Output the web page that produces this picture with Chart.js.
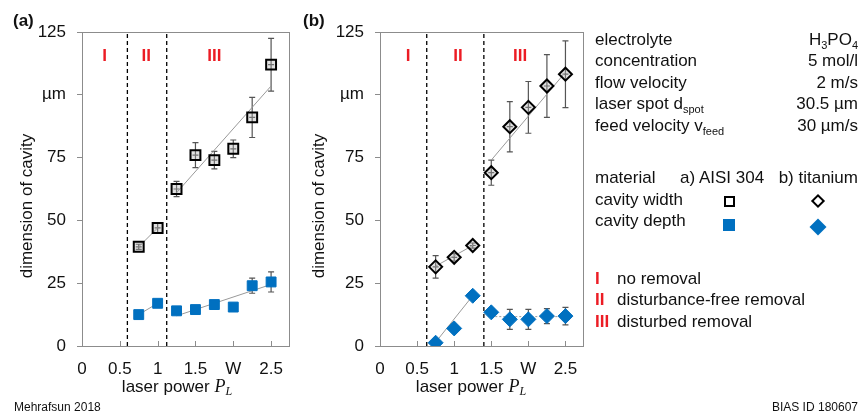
<!DOCTYPE html>
<html>
<head>
<meta charset="utf-8">
<script src="https://cdn.jsdelivr.net/npm/chart.js@4.4.0/dist/chart.umd.min.js"></script>
<style>
  body { margin: 0; background: #fff; }
  #page { position: relative; width: 862px; height: 418px; overflow: hidden;
          font-family: "Liberation Sans", Arial, sans-serif; color: #111; }
  canvas { position: absolute; top: 0; }
  #chartA { left: 0; }
  #chartB { left: 298px; }
  .t { position: absolute; font-size: 17px; line-height: 20px; white-space: nowrap; }
  .r { right: 4px; text-align: right; }
  .t sub { font-size: 11px; vertical-align: -4px; line-height: 0; }
  .red { color: #ec1c24; font-weight: bold; position: absolute; left: 595px; }
  .mk { position: absolute; box-sizing: border-box; }
  .small { position: absolute; font-size: 12px; line-height: 14px; }
</style>
</head>
<body>
<div id="page">
  <canvas id="chartA" width="300" height="418"></canvas>
  <canvas id="chartB" width="300" height="418"></canvas>

  <div class="t" style="left:595px;top:30px">electrolyte</div>
  <div class="t r" style="top:30px">H<sub>3</sub>PO<sub>4</sub></div>
  <div class="t" style="left:595px;top:51px">concentration</div>
  <div class="t r" style="top:51px">5 mol/l</div>
  <div class="t" style="left:595px;top:73px">flow velocity</div>
  <div class="t r" style="top:73px">2 m/s</div>
  <div class="t" style="left:595px;top:94px">laser spot d<sub>spot</sub></div>
  <div class="t r" style="top:94px">30.5 µm</div>
  <div class="t" style="left:595px;top:116px">feed velocity v<sub>feed</sub></div>
  <div class="t r" style="top:116px">30 µm/s</div>

  <div class="t" style="left:595px;top:168px">material</div>
  <div class="t" style="left:680px;top:168px">a) AISI 304</div>
  <div class="t r" style="top:168px">b) titanium</div>
  <div class="t" style="left:595px;top:190px">cavity width</div>
  <div class="t" style="left:595px;top:211px">cavity depth</div>
  <div class="mk" style="left:724px;top:196px;width:11px;height:11px;border:2px solid #000"></div>
  <div class="mk" style="left:723px;top:219px;width:12px;height:12px;background:#0070c0"></div>
  <div class="mk" style="left:813px;top:196px;width:10px;height:10px;border:2px solid #000;transform:rotate(45deg)"></div>
  <div class="mk" style="left:812px;top:221px;width:12px;height:12px;background:#0070c0;transform:rotate(45deg)"></div>

  <div class="t" style="left:0;top:269px"><span class="red">I</span><span style="position:absolute;left:617px">no removal</span></div>
  <div class="t" style="left:0;top:290px"><span class="red">II</span><span style="position:absolute;left:617px">disturbance-free removal</span></div>
  <div class="t" style="left:0;top:312px"><span class="red">III</span><span style="position:absolute;left:617px">disturbed removal</span></div>

  <div class="small" style="left:14px;top:400px">Mehrafsun 2018</div>
  <div class="small" style="right:4px;top:400px">BIAS ID 180607</div>
</div>

<script>
const xTicks = [0, 0.5, 1, 1.5, 2, 2.5];
const yTicks = [0, 25, 50, 75, 100, 125];
const regionNames = ['I', 'II', 'III'];

// (a) AISI 304
const aPowerII = [0.75, 1];
const aPowerIII = [1.25, 1.5, 1.75, 2, 2.25, 2.5];
const aWidthII = [39.5, 47];
const aWidthIIErr = [1, 2];
const aWidthIII = [62.5, 76, 74, 78.5, 91, 112];
const aWidthIIIErr = [3, 5, 3.5, 3.5, 8, 10.5];
const aDepthII = [12.5, 17];
const aDepthIII = [14, 14.5, 16.5, 15.5, 24, 25.5];
const aDepthIIIErr = [0, 0, 0, 0, 3, 4];
const aFitPower = [1.25, 2.5];
const aWidthFit = [61, 103.5];
const aDepthFit = [12, 24.5];
const aBounds = [0.6, 1.12];
const aRegionX = [0.3, 0.85, 1.75];

// (b) titanium
const bPowerII = [0.75, 1, 1.25];
const bPowerIII = [1.5, 1.75, 2, 2.25, 2.5];
const bWidthII = [31.5, 35.3, 40];
const bWidthIIErr = [4.5, 1.5, 1];
const bWidthIII = [69, 87.3, 95, 103.5, 108.2];
const bWidthIIIErr = [5, 10, 10.3, 12.5, 13.3];
const bDepthII = [1.3, 7, 20];
const bDepthIII = [13.4, 10.6, 10.6, 11.9, 11.9];
const bDepthIIIErr = [1.5, 4, 4, 3, 3.5];
const bFitPowerII = [0.75, 1.25];
const bWidthFitII = [31.8, 40];
const bDepthFitII = [1.5, 20];
const bFitPowerIII = [1.5, 2.5];
const bWidthFitIII = [74, 109];
const bDepthFitIII = [11.7, 11.7];
const bBounds = [0.63, 1.4];
const bRegionX = [0.38, 1.05, 1.89];

const FONT = '"Liberation Sans", Arial, sans-serif';
const BLUE = '#0070c0';
const FRAME = '#8c8c8c';

function points(xs, ys) {
  return xs.map((x, i) => ({ x: x, y: ys[i] }));
}

function markers(xs, ys, errs, style, hollow) {
  return {
    data: points(xs, ys),
    errors: errs,
    hollow: hollow,
    showLine: false,
    pointStyle: style,
    pointRadius: style === 'rect' ? 7 : (hollow ? 6.5 : 7.5),
    borderColor: hollow ? '#000' : BLUE,
    borderWidth: hollow ? 2 : 1,
    backgroundColor: hollow ? 'rgba(170,170,170,0.35)' : BLUE
  };
}

function fitLine(xs, ys, dash) {
  return {
    data: points(xs, ys),
    showLine: true,
    pointRadius: 0,
    borderColor: '#999',
    borderWidth: 1,
    borderDash: dash || []
  };
}

function boundary(x) {
  return {
    data: [{ x: x, y: 0 }, { x: x, y: 125 }],
    showLine: true,
    pointRadius: 0,
    borderColor: '#000',
    borderWidth: 1.3,
    borderDash: [4, 3]
  };
}

// frame, error bars, inner x ticks, region numerals and axis titles
const panelDecor = {
  id: 'panelDecor',
  beforeDatasetsDraw(chart, args, opts) {
    const ctx = chart.ctx;
    const area = chart.chartArea;
    const xs = chart.scales.x;
    const ys = chart.scales.y;
    ctx.save();
    ctx.strokeStyle = FRAME;
    ctx.lineWidth = 1;
    ctx.strokeRect(area.left + 0.5, area.top + 0.5, area.right - area.left - 1, area.bottom - area.top);
    ctx.beginPath();
    xTicks.forEach(v => {
      if (v === 0) return;
      const px = Math.round(xs.getPixelForValue(v)) + 0.5;
      ctx.moveTo(px, area.bottom);
      ctx.lineTo(px, area.bottom - 5);
    });
    ctx.stroke();

    ctx.strokeStyle = '#555';
    ctx.lineWidth = 1.2;
    chart.data.datasets.forEach(ds => {
      if (!ds.errors) return;
      ds.data.forEach((p, i) => {
        const e = ds.errors[i];
        const px = xs.getPixelForValue(p.x);
        const py = ys.getPixelForValue(p.y);
        ctx.beginPath();
        if (e > 0) {
          const top = ys.getPixelForValue(p.y + e);
          const bot = ys.getPixelForValue(p.y - e);
          ctx.moveTo(px, top); ctx.lineTo(px, bot);
          ctx.moveTo(px - 3, top); ctx.lineTo(px + 3, top);
          ctx.moveTo(px - 3, bot); ctx.lineTo(px + 3, bot);
        }
        if (ds.hollow) {
          ctx.moveTo(px, py - 3); ctx.lineTo(px, py + 3);
          ctx.moveTo(px - 3, py); ctx.lineTo(px + 3, py);
        }
        ctx.stroke();
      });
    });
    ctx.restore();
  },
  afterDraw(chart, args, opts) {
    const ctx = chart.ctx;
    const area = chart.chartArea;
    const xs = chart.scales.x;
    const ys = chart.scales.y;
    ctx.save();
    ctx.textAlign = 'center';
    ctx.textBaseline = 'middle';
    ctx.fillStyle = '#ec1c24';
    ctx.font = 'bold 17px ' + FONT;
    regionNames.forEach((name, i) => {
      ctx.fillText(name, xs.getPixelForValue(opts.regionX[i]), ys.getPixelForValue(115.5));
    });

    ctx.fillStyle = '#111';
    ctx.font = 'bold 17px ' + FONT;
    ctx.textAlign = 'left';
    ctx.fillText(opts.letter, opts.letterX, 21);

    // y axis title
    ctx.font = '17px ' + FONT;
    ctx.save();
    ctx.translate(opts.yTitleX, 206);
    ctx.rotate(-Math.PI / 2);
    ctx.textAlign = 'center';
    ctx.fillText('dimension of cavity', 0, 0);
    ctx.restore();

    // x axis title with italic P_L
    const main = 'laser power ';
    ctx.font = '17px ' + FONT;
    const w1 = ctx.measureText(main).width;
    ctx.font = 'italic 18px "Liberation Serif", serif';
    const w2 = ctx.measureText('P').width;
    ctx.font = 'italic 12px "Liberation Serif", serif';
    const w3 = ctx.measureText('L').width;
    let x0 = opts.xTitleX - (w1 + w2 + w3) / 2;
    ctx.textAlign = 'left';
    ctx.font = '17px ' + FONT;
    ctx.fillText(main, x0, 387);
    ctx.font = 'italic 18px "Liberation Serif", serif';
    ctx.fillText('P', x0 + w1, 387);
    ctx.font = 'italic 12px "Liberation Serif", serif';
    ctx.fillText('L', x0 + w1 + w2, 392);
    ctx.restore();
  }
};

function panelOptions(padRight, decor) {
  return {
    responsive: false,
    animation: false,
    layout: { padding: { top: 32, right: padRight, bottom: 0, left: 0 } },
    plugins: { legend: { display: false }, tooltip: { enabled: false }, panelDecor: decor },
    scales: {
      x: {
        type: 'linear', min: 0, max: 2.75,
        afterBuildTicks: s => { s.ticks = xTicks.map(v => ({ value: v })); },
        afterFit: s => { s.height = 72; },
        grid: { display: false, drawTicks: false },
        border: { display: false },
        ticks: {
          padding: 13, color: '#111', font: { family: FONT, size: 17 },
          callback: v => (v === 2 ? 'W' : String(v))
        }
      },
      y: {
        type: 'linear', min: 0, max: 125,
        afterBuildTicks: s => { s.ticks = yTicks.map(v => ({ value: v })); },
        afterFit: s => { s.width = 82; },
        grid: { drawOnChartArea: false, drawTicks: true, tickLength: 5, color: FRAME },
        border: { display: false },
        ticks: {
          padding: 11, color: '#111', font: { family: FONT, size: 17 },
          callback: v => (v === 100 ? 'µm' : String(v))
        }
      }
    }
  };
}

new Chart(document.getElementById('chartA'), {
  type: 'scatter',
  data: {
    datasets: [
      markers(aPowerII, aWidthII, aWidthIIErr, 'rect', true),
      markers(aPowerIII, aWidthIII, aWidthIIIErr, 'rect', true),
      markers(aPowerII, aDepthII, null, 'rect', false),
      markers(aPowerIII, aDepthIII, aDepthIIIErr, 'rect', false),
      fitLine(aPowerII, aWidthII),
      fitLine(aPowerII, aDepthII),
      fitLine(aFitPower, aWidthFit),
      fitLine(aFitPower, aDepthFit),
      boundary(aBounds[0]),
      boundary(aBounds[1])
    ]
  },
  options: panelOptions(10, { regionX: aRegionX, letter: '(a)', letterX: 13, yTitleX: 27, xTitleX: 177 }),
  plugins: [panelDecor]
});

new Chart(document.getElementById('chartB'), {
  type: 'scatter',
  data: {
    datasets: [
      markers(bPowerII, bWidthII, bWidthIIErr, 'rectRot', true),
      markers(bPowerIII, bWidthIII, bWidthIIIErr, 'rectRot', true),
      markers(bPowerII, bDepthII, null, 'rectRot', false),
      markers(bPowerIII, bDepthIII, bDepthIIIErr, 'rectRot', false),
      fitLine(bFitPowerII, bWidthFitII),
      fitLine(bFitPowerII, bDepthFitII),
      fitLine(bFitPowerIII, bWidthFitIII),
      fitLine(bFitPowerIII, bDepthFitIII, [2, 2]),
      boundary(bBounds[0]),
      boundary(bBounds[1])
    ]
  },
  options: panelOptions(14, { regionX: bRegionX, letter: '(b)', letterX: 5, yTitleX: 21, xTitleX: 173 }),
  plugins: [panelDecor]
});
</script>
</body>
</html>
